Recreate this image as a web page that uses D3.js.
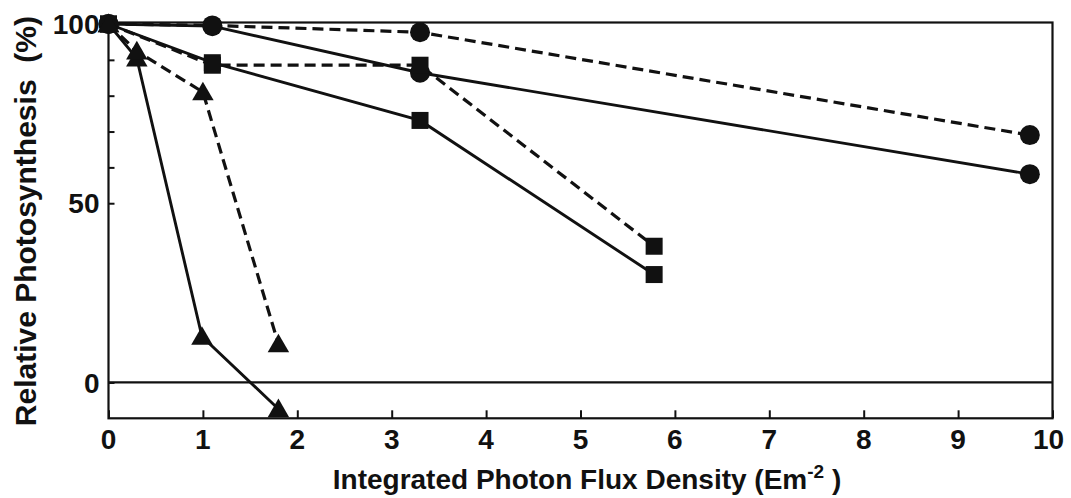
<!DOCTYPE html>
<html>
<head>
<meta charset="utf-8">
<script src="https://cdn.jsdelivr.net/npm/d3@7"></script>
<style>
  html, body { margin: 0; padding: 0; background: #fff; }
  svg text { font-family: "Liberation Sans", Arial, Helvetica, sans-serif; font-weight: bold; fill: #111; }
</style>
</head>
<body>
<div id="chart"></div>
<script>
// Data: [photon flux (E m-2), relative photosynthesis (%)]
const circleSolid = [[0, 100], [1.1, 99.4], [3.3, 86.4], [9.76, 58.1]];
const circleDashed = [[0, 100], [1.1, 99.6], [3.3, 97.7], [9.76, 69.0]];
const squareSolid = [[0, 100], [1.1, 89.2], [3.3, 73.1], [5.78, 30.1]];
const squareDashed = [[0, 100], [1.1, 88.5], [3.3, 88.5], [5.78, 38.0]];
const triangleSolid = [[0, 100], [0.3, 90.4], [0.99, 12.8], [1.8, -7.4]];
const triangleDashed = [[0, 100], [0.3, 92.4], [1.0, 81.0], [1.8, 10.7]];

const xTicks = [0, 1, 2, 3, 4, 5, 6, 7, 8, 9, 10];
const yLabelTicks = [0, 50, 100];
const yMinorTicks = [60, 70, 80, 90];

const series = [
  { data: circleSolid, shape: 'circle', dashed: false },
  { data: circleDashed, shape: 'circle', dashed: true },
  { data: squareSolid, shape: 'square', dashed: false },
  { data: squareDashed, shape: 'square', dashed: true },
  { data: triangleSolid, shape: 'triangle', dashed: false },
  { data: triangleDashed, shape: 'triangle', dashed: true }
];

const W = 1071, H = 498;
const margin = { top: 24, right: 18.5, bottom: 80, left: 108.5 };

const svg = d3.select('#chart')
  .append('svg')
  .attr('width', W)
  .attr('height', H);

const x = d3.scaleLinear()
  .domain([0, 10])
  .range([margin.left, W - margin.right]);

const y = d3.scaleLinear()
  .domain([-10, 100])
  .range([H - margin.bottom + 0.3, margin.top]);

const ink = '#111';

// Frame
svg.append('rect')
  .attr('x', x(0))
  .attr('y', margin.top - 1.5)
  .attr('width', x(10) - x(0))
  .attr('height', y(-10) - margin.top + 1.5)
  .attr('fill', 'none')
  .attr('stroke', ink)
  .attr('stroke-width', 2.2);

// Zero line
svg.append('line')
  .attr('x1', x(0)).attr('x2', x(10))
  .attr('y1', y(0)).attr('y2', y(0))
  .attr('stroke', ink)
  .attr('stroke-width', 2.2);

// X axis (ticks point inward)
const xAxis = svg.append('g')
  .attr('transform', `translate(0,${y(-10)})`)
  .call(d3.axisTop(x).tickValues(xTicks).tickSize(8).tickFormat(''));
xAxis.select('.domain').remove();
xAxis.selectAll('line').attr('stroke', ink).attr('stroke-width', 2);

svg.append('g')
  .selectAll('text')
  .data(xTicks)
  .enter()
  .append('text')
  .attr('x', d => x(d) - (d === 10 ? 4 : 0))
  .attr('y', y(-10) + 31)
  .attr('text-anchor', 'middle')
  .style('font-size', '28px')
  .text(d => d);

// Y axis (ticks point inward)
const yAxis = svg.append('g')
  .attr('transform', `translate(${x(0)},0)`)
  .call(d3.axisRight(y).tickValues(yLabelTicks.concat(yMinorTicks)).tickSize(6).tickFormat(''));
yAxis.select('.domain').remove();
yAxis.selectAll('line').attr('stroke', ink).attr('stroke-width', 2);

svg.append('g')
  .selectAll('text')
  .data(yLabelTicks)
  .enter()
  .append('text')
  .attr('x', x(0) - 9)
  .attr('y', d => y(d))
  .attr('dy', '0.36em')
  .attr('text-anchor', 'end')
  .style('font-size', '28px')
  .text(d => d);

// Lines
const line = d3.line()
  .x(d => x(d[0]))
  .y(d => y(d[1]));

svg.append('g')
  .selectAll('path')
  .data(series)
  .enter()
  .append('path')
  .attr('d', d => line(d.data))
  .attr('fill', 'none')
  .attr('stroke', ink)
  .attr('stroke-width', d => d.dashed ? 3.2 : 2.9)
  .attr('stroke-dasharray', d => d.dashed ? '11,6' : null);

// Markers
const triangle = d3.symbol().type(d3.symbolTriangle).size(200);
series.forEach(s => {
  const g = svg.append('g');
  const pts = g.selectAll('.pt').data(s.data).enter();
  if (s.shape === 'circle') {
    pts.append('circle')
      .attr('cx', d => x(d[0]))
      .attr('cy', d => y(d[1]))
      .attr('r', 10)
      .attr('fill', ink);
  } else if (s.shape === 'square') {
    pts.append('rect')
      .attr('x', d => x(d[0]) - 8.5)
      .attr('y', d => y(d[1]) - 8.5)
      .attr('width', 17)
      .attr('height', 17)
      .attr('fill', ink);
  } else {
    pts.append('path')
      .attr('d', triangle)
      .attr('transform', d => `translate(${x(d[0])},${y(d[1]) + 2})`)
      .attr('fill', ink);
  }
});

// Axis titles
svg.append('text')
  .attr('transform', `translate(36,${(margin.top + y(-10)) / 2}) rotate(-90)`)
  .attr('text-anchor', 'middle')
  .style('font-size', '30px')
  .style('white-space', 'pre')
  .text('Relative Photosynthesis  (%)');

const xt = svg.append('text')
  .attr('x', 587)
  .attr('y', 489)
  .attr('text-anchor', 'middle')
  .style('font-size', '28px');
xt.append('tspan').text('Integrated Photon Flux Density (Em');
xt.append('tspan').attr('dy', -11).style('font-size', '19px').text('-2');
xt.append('tspan').attr('dy', 11).text(' )');
</script>
</body>
</html>
